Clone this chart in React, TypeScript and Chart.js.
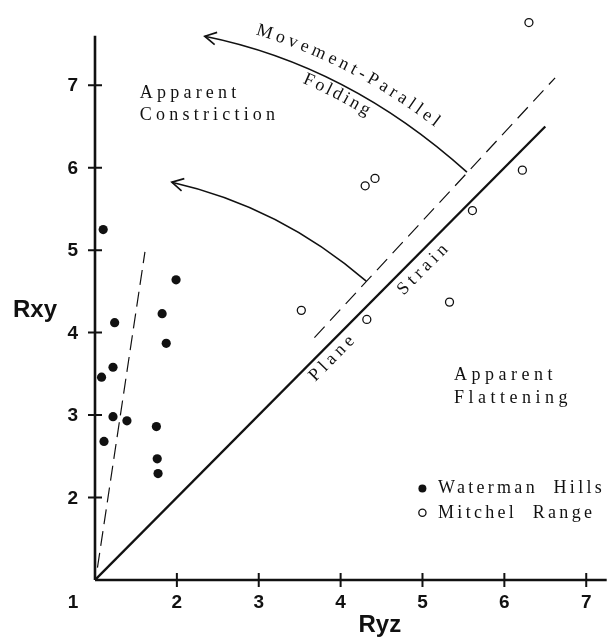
import React, { useEffect, useRef } from "react";
import { Chart, registerables } from "chart.js";

Chart.register(...registerables);

// ---- Data ----
const watermanRyz = [1.10, 1.99, 1.82, 1.24, 1.87, 1.22, 1.08, 1.22, 1.39, 1.75, 1.11, 1.76, 1.77];
const watermanRxy = [5.25, 4.64, 4.23, 4.12, 3.87, 3.58, 3.46, 2.98, 2.93, 2.86, 2.68, 2.47, 2.29];
const mitchelRyz = [6.30, 4.30, 4.42, 6.22, 5.61, 3.52, 4.32, 5.33];
const mitchelRxy = [7.76, 5.78, 5.87, 5.97, 5.48, 4.27, 4.16, 4.37];

const xTicks = [1, 2, 3, 4, 5, 6, 7];
const yTicks = [2, 3, 4, 5, 6, 7];

const planeStrainLine = [[1, 1], [6.5, 6.5]];
const dashedParallel = [[3.68, 3.94], [6.62, 7.09]];
const dashedSteep = [[1.03, 1.15], [1.61, 4.98]];

// quadratic arrows: [tip, control, start]
const foldingArrow = [[2.34, 7.594], [4.094, 7.242], [5.543, 5.945]];
const constrictionArrow = [[1.938, 5.824], [3.259, 5.527], [4.313, 4.624]];

const legendLabels = ["Waterman  Hills", "Mitchel  Range"];

const toXY = (arr: number[][]) => arr.map(([x, y]) => ({ x, y }));
const zip = (xs: number[], ys: number[]) => xs.map((x, i) => ({ x, y: ys[i] }));

const SERIF = '"Liberation Serif", "Times New Roman", serif';
const SANS = '"Liberation Sans", Arial, sans-serif';

function quadPoints(p0: number[], c: number[], p1: number[], n = 200) {
  const pts: { x: number; y: number }[] = [];
  for (let i = 0; i <= n; i++) {
    const t = i / n;
    const a = (1 - t) * (1 - t), b = 2 * t * (1 - t), d = t * t;
    pts.push({ x: a * p0[0] + b * c[0] + d * p1[0], y: a * p0[1] + b * c[1] + d * p1[1] });
  }
  return pts;
}

function drawTextOnPath(ctx: CanvasRenderingContext2D, pts: { x: number; y: number }[], text: string, startS: number, offset: number, spacing: number) {
  const cum = [0];
  for (let i = 1; i < pts.length; i++) {
    cum.push(cum[i - 1] + Math.hypot(pts[i].x - pts[i - 1].x, pts[i].y - pts[i - 1].y));
  }
  const at = (s: number) => {
    let i = 1;
    while (i < cum.length - 1 && cum[i] < s) i++;
    const seg = cum[i] - cum[i - 1] || 1;
    const f = (s - cum[i - 1]) / seg;
    const p = pts[i - 1], q = pts[i];
    return { x: p.x + (q.x - p.x) * f, y: p.y + (q.y - p.y) * f, a: Math.atan2(q.y - p.y, q.x - p.x) };
  };
  let s = startS;
  ctx.textAlign = "center";
  ctx.textBaseline = "middle";
  for (const ch of text) {
    const w = ctx.measureText(ch).width;
    const { x, y, a } = at(s + w / 2);
    ctx.save();
    ctx.translate(x + Math.sin(a) * offset, y - Math.cos(a) * offset);
    ctx.rotate(a);
    ctx.fillText(ch, 0, 0);
    ctx.restore();
    s += w + spacing;
  }
}

const overlayPlugin = {
  id: "overlay",
  afterDraw(chart: any) {
    const ctx: CanvasRenderingContext2D = chart.ctx;
    const xs = chart.scales.x, ys = chart.scales.y;
    const px = (v: number) => xs.getPixelForValue(v);
    const py = (v: number) => ys.getPixelForValue(v);
    const ink = "#111";
    ctx.save();
    ctx.strokeStyle = ink;
    ctx.fillStyle = ink;
    ctx.lineCap = "butt";

    // axes
    ctx.lineWidth = 2.6;
    ctx.beginPath();
    ctx.moveTo(px(1), py(1));
    ctx.lineTo(px(7.25), py(1));
    ctx.moveTo(px(1), py(1));
    ctx.lineTo(px(1), py(7.6));
    ctx.stroke();

    // cross ticks
    ctx.lineWidth = 2;
    ctx.beginPath();
    xTicks.forEach((v) => {
      if (v === 1) return;
      ctx.moveTo(px(v), py(1) - 7);
      ctx.lineTo(px(v), py(1) + 7);
    });
    yTicks.forEach((v) => {
      ctx.moveTo(px(1) - 7, py(v));
      ctx.lineTo(px(1) + 7, py(v));
    });
    ctx.stroke();

    // tick labels
    ctx.font = `bold 19px ${SANS}`;
    ctx.textAlign = "center";
    ctx.textBaseline = "middle";
    xTicks.forEach((v) => {
      const x = v === 1 ? px(v) - 22 : px(v);
      ctx.fillText(String(v), x, py(1) + 23);
    });
    ctx.textAlign = "right";
    yTicks.forEach((v) => {
      ctx.fillText(String(v), px(1) - 17, py(v) + 1);
    });

    // axis titles
    ctx.font = `bold 24px ${SANS}`;
    ctx.textAlign = "center";
    ctx.textBaseline = "middle";
    ctx.fillText("Rxy", 35, py(4.27));
    ctx.fillText("Ryz", (px(1) + px(7.25)) / 2 + 29, chart.height - 16);

    // curved arrows
    const drawArrow = (arr: number[][]) => {
      const E = [px(arr[0][0]), py(arr[0][1])];
      const C = [px(arr[1][0]), py(arr[1][1])];
      const S = [px(arr[2][0]), py(arr[2][1])];
      ctx.lineWidth = 1.6;
      ctx.beginPath();
      ctx.moveTo(S[0], S[1]);
      ctx.quadraticCurveTo(C[0], C[1], E[0], E[1]);
      ctx.stroke();
      const ang = Math.atan2(E[1] - C[1], E[0] - C[0]);
      const L = 13, spread = 0.5;
      ctx.beginPath();
      ctx.moveTo(E[0] - L * Math.cos(ang - spread), E[1] - L * Math.sin(ang - spread));
      ctx.lineTo(E[0], E[1]);
      ctx.lineTo(E[0] - L * Math.cos(ang + spread), E[1] - L * Math.sin(ang + spread));
      ctx.stroke();
      return quadPoints(E, C, S);
    };
    const foldPts = drawArrow(foldingArrow);
    drawArrow(constrictionArrow);

    // text along folding curve
    ctx.font = `18px ${SERIF}`;
    drawTextOnPath(ctx, foldPts, "Movement-Parallel", 48, 19, 3.7);
    drawTextOnPath(ctx, foldPts, "Folding", 109, -10.5, 3.0);

    // region labels
    ctx.textAlign = "left";
    ctx.textBaseline = "alphabetic";
    ctx.font = `18px ${SERIF}`;
    (ctx as any).letterSpacing = "4.2px";
    ctx.fillText("Apparent", px(1.548), py(6.842));
    ctx.fillText("Constriction", px(1.548), py(6.576));
    (ctx as any).letterSpacing = "4.5px";
    ctx.fillText("Apparent", px(5.385), py(3.424));
    ctx.fillText("Flattening", px(5.385), py(3.145));

    // plane strain labels
    const ang = Math.atan2(py(6.5) - py(1), px(6.5) - px(1));
    (ctx as any).letterSpacing = "4.2px";
    ctx.textAlign = "center";
    ctx.textBaseline = "middle";
    [["Plane", 3.887, 3.703], ["Strain", 4.995, 4.782]].forEach(([t, x, y]) => {
      ctx.save();
      ctx.translate(px(x as number) + 2, py(y as number));
      ctx.rotate(ang);
      ctx.fillText(t as string, 0, 0);
      ctx.restore();
    });

    // legend
    ctx.textAlign = "left";
    ctx.textBaseline = "alphabetic";
    (ctx as any).letterSpacing = "3.3px";
    ctx.beginPath();
    ctx.arc(px(4.999), py(2.111), 4, 0, Math.PI * 2);
    ctx.fill();
    ctx.fillText(legendLabels[0], px(5.19), py(2.055));
    ctx.lineWidth = 1.3;
    ctx.beginPath();
    ctx.arc(px(4.999), py(1.816), 3.6, 0, Math.PI * 2);
    ctx.stroke();
    ctx.fillText(legendLabels[1], px(5.19), py(1.752));
    (ctx as any).letterSpacing = "0px";

    ctx.restore();
  },
};

export default function App() {
  const ref = useRef<HTMLCanvasElement | null>(null);
  useEffect(() => {
    if (!ref.current) return;
    const chart = new Chart(ref.current, {
      type: "scatter",
      data: {
        datasets: [
          {
            label: "Waterman Hills",
            data: zip(watermanRyz, watermanRxy),
            pointRadius: 4.6,
            pointBackgroundColor: "#111",
            pointBorderColor: "#111",
            pointBorderWidth: 0,
          },
          {
            label: "Mitchel Range",
            data: zip(mitchelRyz, mitchelRxy),
            pointRadius: 4,
            pointBackgroundColor: "#fff",
            pointBorderColor: "#111",
            pointBorderWidth: 1.3,
          },
          {
            label: "Plane Strain",
            data: toXY(planeStrainLine),
            showLine: true,
            borderColor: "#111",
            borderWidth: 2.3,
            pointRadius: 0,
          },
          {
            label: "dashed parallel",
            data: toXY(dashedParallel),
            showLine: true,
            borderColor: "#111",
            borderWidth: 1.2,
            borderDash: [15, 8],
            pointRadius: 0,
          },
          {
            label: "dashed steep",
            data: toXY(dashedSteep),
            showLine: true,
            borderColor: "#111",
            borderWidth: 1.2,
            borderDash: [15, 7],
            pointRadius: 0,
          },
        ],
      },
      options: {
        animation: false,
        responsive: false,
        devicePixelRatio: 1,
        layout: { padding: { left: 95, right: 4, top: 11, bottom: 61 } },
        plugins: { legend: { display: false }, tooltip: { enabled: false } },
        events: [],
        scales: {
          x: { type: "linear", min: 1, max: 7.25, display: false },
          y: { type: "linear", min: 1, max: 7.9, display: false },
        },
      },
      plugins: [overlayPlugin],
    });
    return () => chart.destroy();
  }, []);
  return (
    <div style={{ position: "fixed", left: 0, top: 0, width: 612, height: 641, background: "#fff" }}>
      <canvas ref={ref} width={612} height={641} />
    </div>
  );
}
